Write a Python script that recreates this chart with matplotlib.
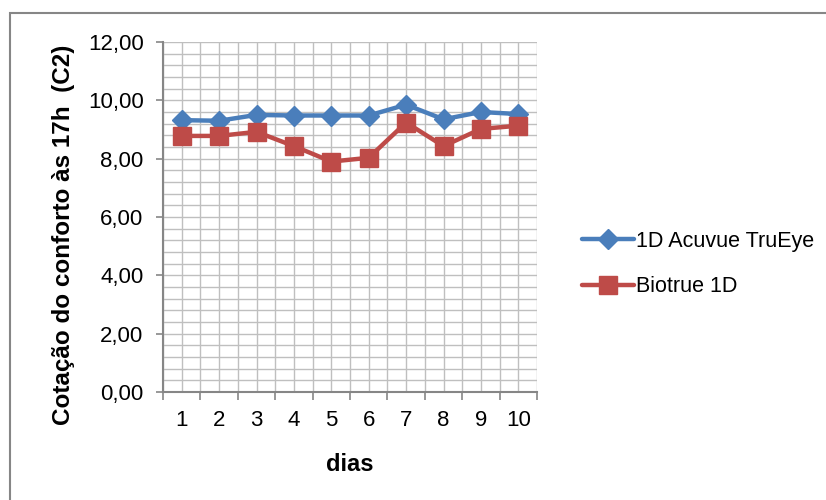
import matplotlib
matplotlib.use("Agg")
import matplotlib.pyplot as plt
from matplotlib.patches import Rectangle
import numpy as np

plt.rcParams['font.family'] = ['Liberation Sans', 'DejaVu Sans']

dias = [1, 2, 3, 4, 5, 6, 7, 8, 9, 10]
acuvue = [9.32, 9.30, 9.50, 9.48, 9.48, 9.48, 9.85, 9.35, 9.60, 9.53]
biotrue = [8.78, 8.78, 8.92, 8.43, 7.90, 8.03, 9.24, 8.43, 9.02, 9.13]
series_names = ["1D Acuvue TruEye", "Biotrue 1D"]
y_ticks = [0, 2, 4, 6, 8, 10, 12]
y_tick_labels = ["0,00", "2,00", "4,00", "6,00", "8,00", "10,00", "12,00"]

blue = "#4A7EBB"
red = "#BE4B48"
grid_c = "#BFBFBF"
axis_c = "#868686"

fig = plt.figure(figsize=(8.26, 5.0), dpi=100)
ax = fig.add_axes([163 / 826, 1 - 392 / 500, (537 - 163) / 826, (392 - 42) / 500])

# chart frame
fig.patches.append(Rectangle((10 / 826, -0.1), 1.2, 1 - 13 / 500 + 0.1,
                             transform=fig.transFigure, fill=False,
                             edgecolor=axis_c, linewidth=1.5, zorder=0))

ax.set_xlim(0.5, 10.5)
ax.set_ylim(0, 12)

# grid: every half category and every 0.4 units
for gx in np.arange(0.5, 10.51, 0.5):
    ax.axvline(gx, color=grid_c, linewidth=1.0, zorder=0)
for gy in np.arange(0, 12.01, 0.4):
    ax.axhline(gy, color=grid_c, linewidth=1.0, zorder=0)

ax.plot(dias, acuvue, color=blue, linewidth=3.2, marker="D", markersize=10.5,
        label=series_names[0], zorder=3, solid_capstyle="round")
ax.plot(dias, biotrue, color=red, linewidth=3.2, marker="s", markersize=13.5,
        label=series_names[1], zorder=3, solid_capstyle="round")

ax.set_yticks(y_ticks)
ax.set_yticklabels(y_tick_labels)
ax.set_xticks(np.arange(0.5, 10.51, 1.0))
ax.set_xticklabels([])
ax.set_xticks(dias, minor=True)
ax.set_xticklabels([str(d) for d in dias], minor=True)
ax.tick_params(axis="x", which="major", length=6, width=1.2, color=axis_c, direction="out")
ax.tick_params(axis="x", which="minor", length=0, pad=13, labelsize=16)
ax.tick_params(axis="y", which="major", length=5, width=1.2, color=axis_c,
               direction="out", labelsize=16, pad=9)

for side in ["top", "right"]:
    ax.spines[side].set_visible(False)
for side in ["left", "bottom"]:
    ax.spines[side].set_color(axis_c)
    ax.spines[side].set_linewidth(1.5)

ax.set_xlabel("dias", fontsize=17, fontweight="bold")
ax.xaxis.set_label_coords(0.5, (392 - 453) / 350)
ax.set_ylabel("Cotação do conforto às 17h  (C2)", fontsize=17.5, fontweight="bold")
ax.yaxis.set_label_coords((75 - 163) / 374, (392 - 235) / 350)

leg = fig.legend(loc="center left", bbox_to_anchor=(563 / 826, 1 - 264 / 500),
                 frameon=False, fontsize=15.5, handlelength=2.4, handletextpad=0.1,
                 labelspacing=1.15)

fig.savefig("out.png", dpi=100)
